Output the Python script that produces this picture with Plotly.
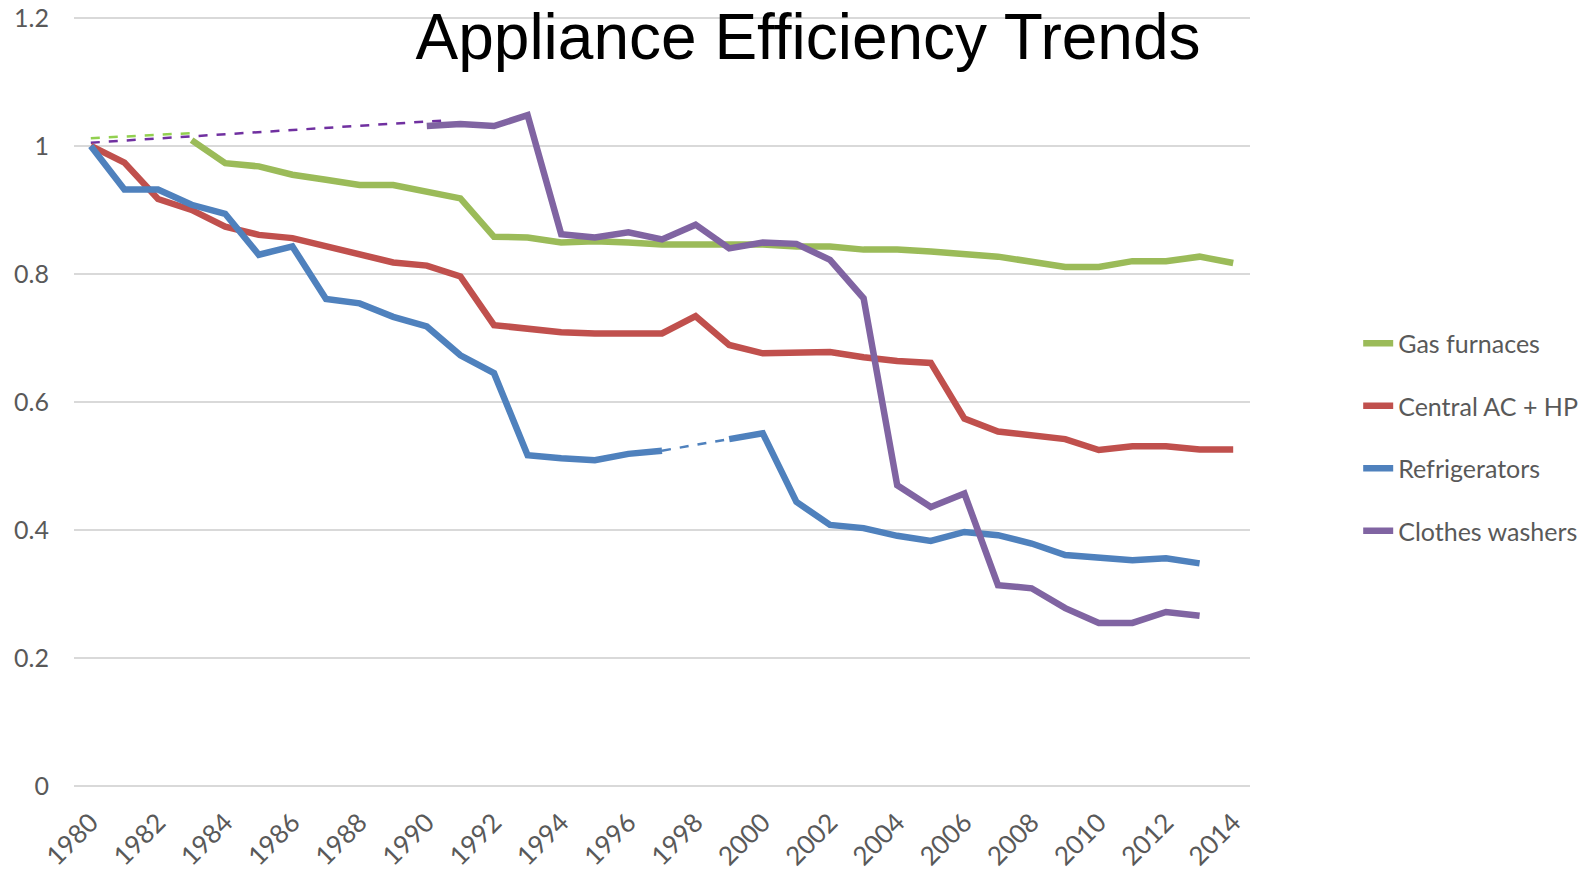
import plotly.graph_objects as go

years = list(range(1980, 2015))

gas_furnaces = [None, None, None, 1.009, 0.973, 0.968, 0.955, 0.947, 0.939, 0.939,
                0.928, 0.918, 0.858, 0.857, 0.849, 0.851, 0.849, 0.846, 0.846, 0.846,
                0.846, 0.843, 0.843, 0.838, 0.838, 0.835, 0.830, 0.827, 0.819, 0.811,
                0.811, 0.820, 0.820, 0.827, 0.817]
central_ac = [1.0, 0.974, 0.917, 0.900, 0.874, 0.861, 0.856, 0.843, 0.830, 0.818,
              0.813, 0.796, 0.720, 0.714, 0.709, 0.707, 0.707, 0.707, 0.734, 0.689,
              0.676, 0.678, 0.678, 0.670, 0.664, 0.661, 0.574, 0.554, 0.549, 0.542,
              0.525, 0.531, 0.531, 0.526, 0.526]
refrigerators = [1.0, 0.932, 0.932, 0.908, 0.894, 0.830, 0.843, 0.761, 0.754, 0.733,
                 0.718, 0.673, 0.645, 0.517, 0.512, 0.509, 0.519, 0.524, None, 0.542,
                 0.551, 0.444, 0.408, 0.403, 0.391, 0.383, 0.397, 0.392, 0.379, 0.361,
                 0.356, 0.353, 0.356, 0.348, None]
clothes_washers = [None] * 10 + [1.031, 1.034, 1.031, 1.048, 0.862, 0.857, 0.865, 0.854,
                                 0.877, 0.840, 0.849, 0.847, 0.822, 0.762, 0.470, 0.436,
                                 0.457, 0.314, 0.309, 0.278, 0.255, 0.255, 0.272, 0.266,
                                 None]

# dashed connectors across missing years
gas_gap_x = [1980, 1983]
gas_gap_y = [1.012, 1.020]
washer_gap_x = [1980, 1990.6]
washer_gap_y = [1.005, 1.040]
fridge_gap_x = [1997, 1999]
fridge_gap_y = [0.524, 0.542]

tick_years = list(range(1980, 2015, 2))

GREEN = '#9BBB59'
RED = '#C0504D'
BLUE = '#4F81BD'
PURPLE = '#8064A2'
TEXT = '#595959'

fig = go.Figure()

# dashed estimate lines (drawn first, underneath)
fig.add_trace(go.Scatter(x=gas_gap_x, y=gas_gap_y, mode='lines', showlegend=False,
                         line=dict(color='#92D050', width=2.5, dash='dash')))
fig.add_trace(go.Scatter(x=washer_gap_x, y=washer_gap_y, mode='lines', showlegend=False,
                         line=dict(color='#7030A0', width=2.5, dash='dash')))
fig.add_trace(go.Scatter(x=fridge_gap_x, y=fridge_gap_y, mode='lines', showlegend=False,
                         line=dict(color=BLUE, width=2.5, dash='dash')))

series = [
    ('Gas furnaces', gas_furnaces, GREEN),
    ('Central AC + HP', central_ac, RED),
    ('Refrigerators', refrigerators, BLUE),
    ('Clothes washers', clothes_washers, PURPLE),
]
for name, vals, color in series:
    fig.add_trace(go.Scatter(
        x=years, y=vals, name=name, mode='lines', legendgroup=name,
        line=dict(color=color, width=6.5),
    ))

fig.update_layout(
    width=1595, height=870,
    paper_bgcolor='white', plot_bgcolor='white',
    margin=dict(l=74, r=343, t=14, b=80),
    title=dict(
        text='Appliance Efficiency Trends',
        font=dict(family='Liberation Sans, Arial', size=64, color='black'),
        x=0.5066, xanchor='center', y=0.958, yanchor='middle',
        automargin=False,
    ),
    xaxis=dict(
        range=[1979.5, 2014.5], tickvals=tick_years, tickangle=-45,
        showgrid=False, zeroline=False, showline=False, automargin=False,
        tickfont=dict(family='Lato', size=26, color=TEXT),
        ticks='outside', ticklen=6, tickcolor='rgba(0,0,0,0)',
    ),
    yaxis=dict(
        range=[-0.006, 1.206], tickvals=[0, 0.2, 0.4, 0.6, 0.8, 1.0, 1.2],
        gridcolor='#D9D9D9', gridwidth=2, zeroline=False, showline=False,
        automargin=False,
        tickfont=dict(family='Lato', size=25, color=TEXT),
        ticks='outside', ticklen=19, tickcolor='rgba(0,0,0,0)',
    ),
    legend=dict(
        x=1.092, xanchor='left', y=0.605, yanchor='top',
        font=dict(family='Lato', size=25, color=TEXT),
        tracegroupgap=27, bgcolor='rgba(0,0,0,0)',
    ),
)

# drop the default page margin so the figure sits at the window's corner
fig.write_html("out.html", config={'displayModeBar': False},
               post_script="document.body.style.margin='0';")
